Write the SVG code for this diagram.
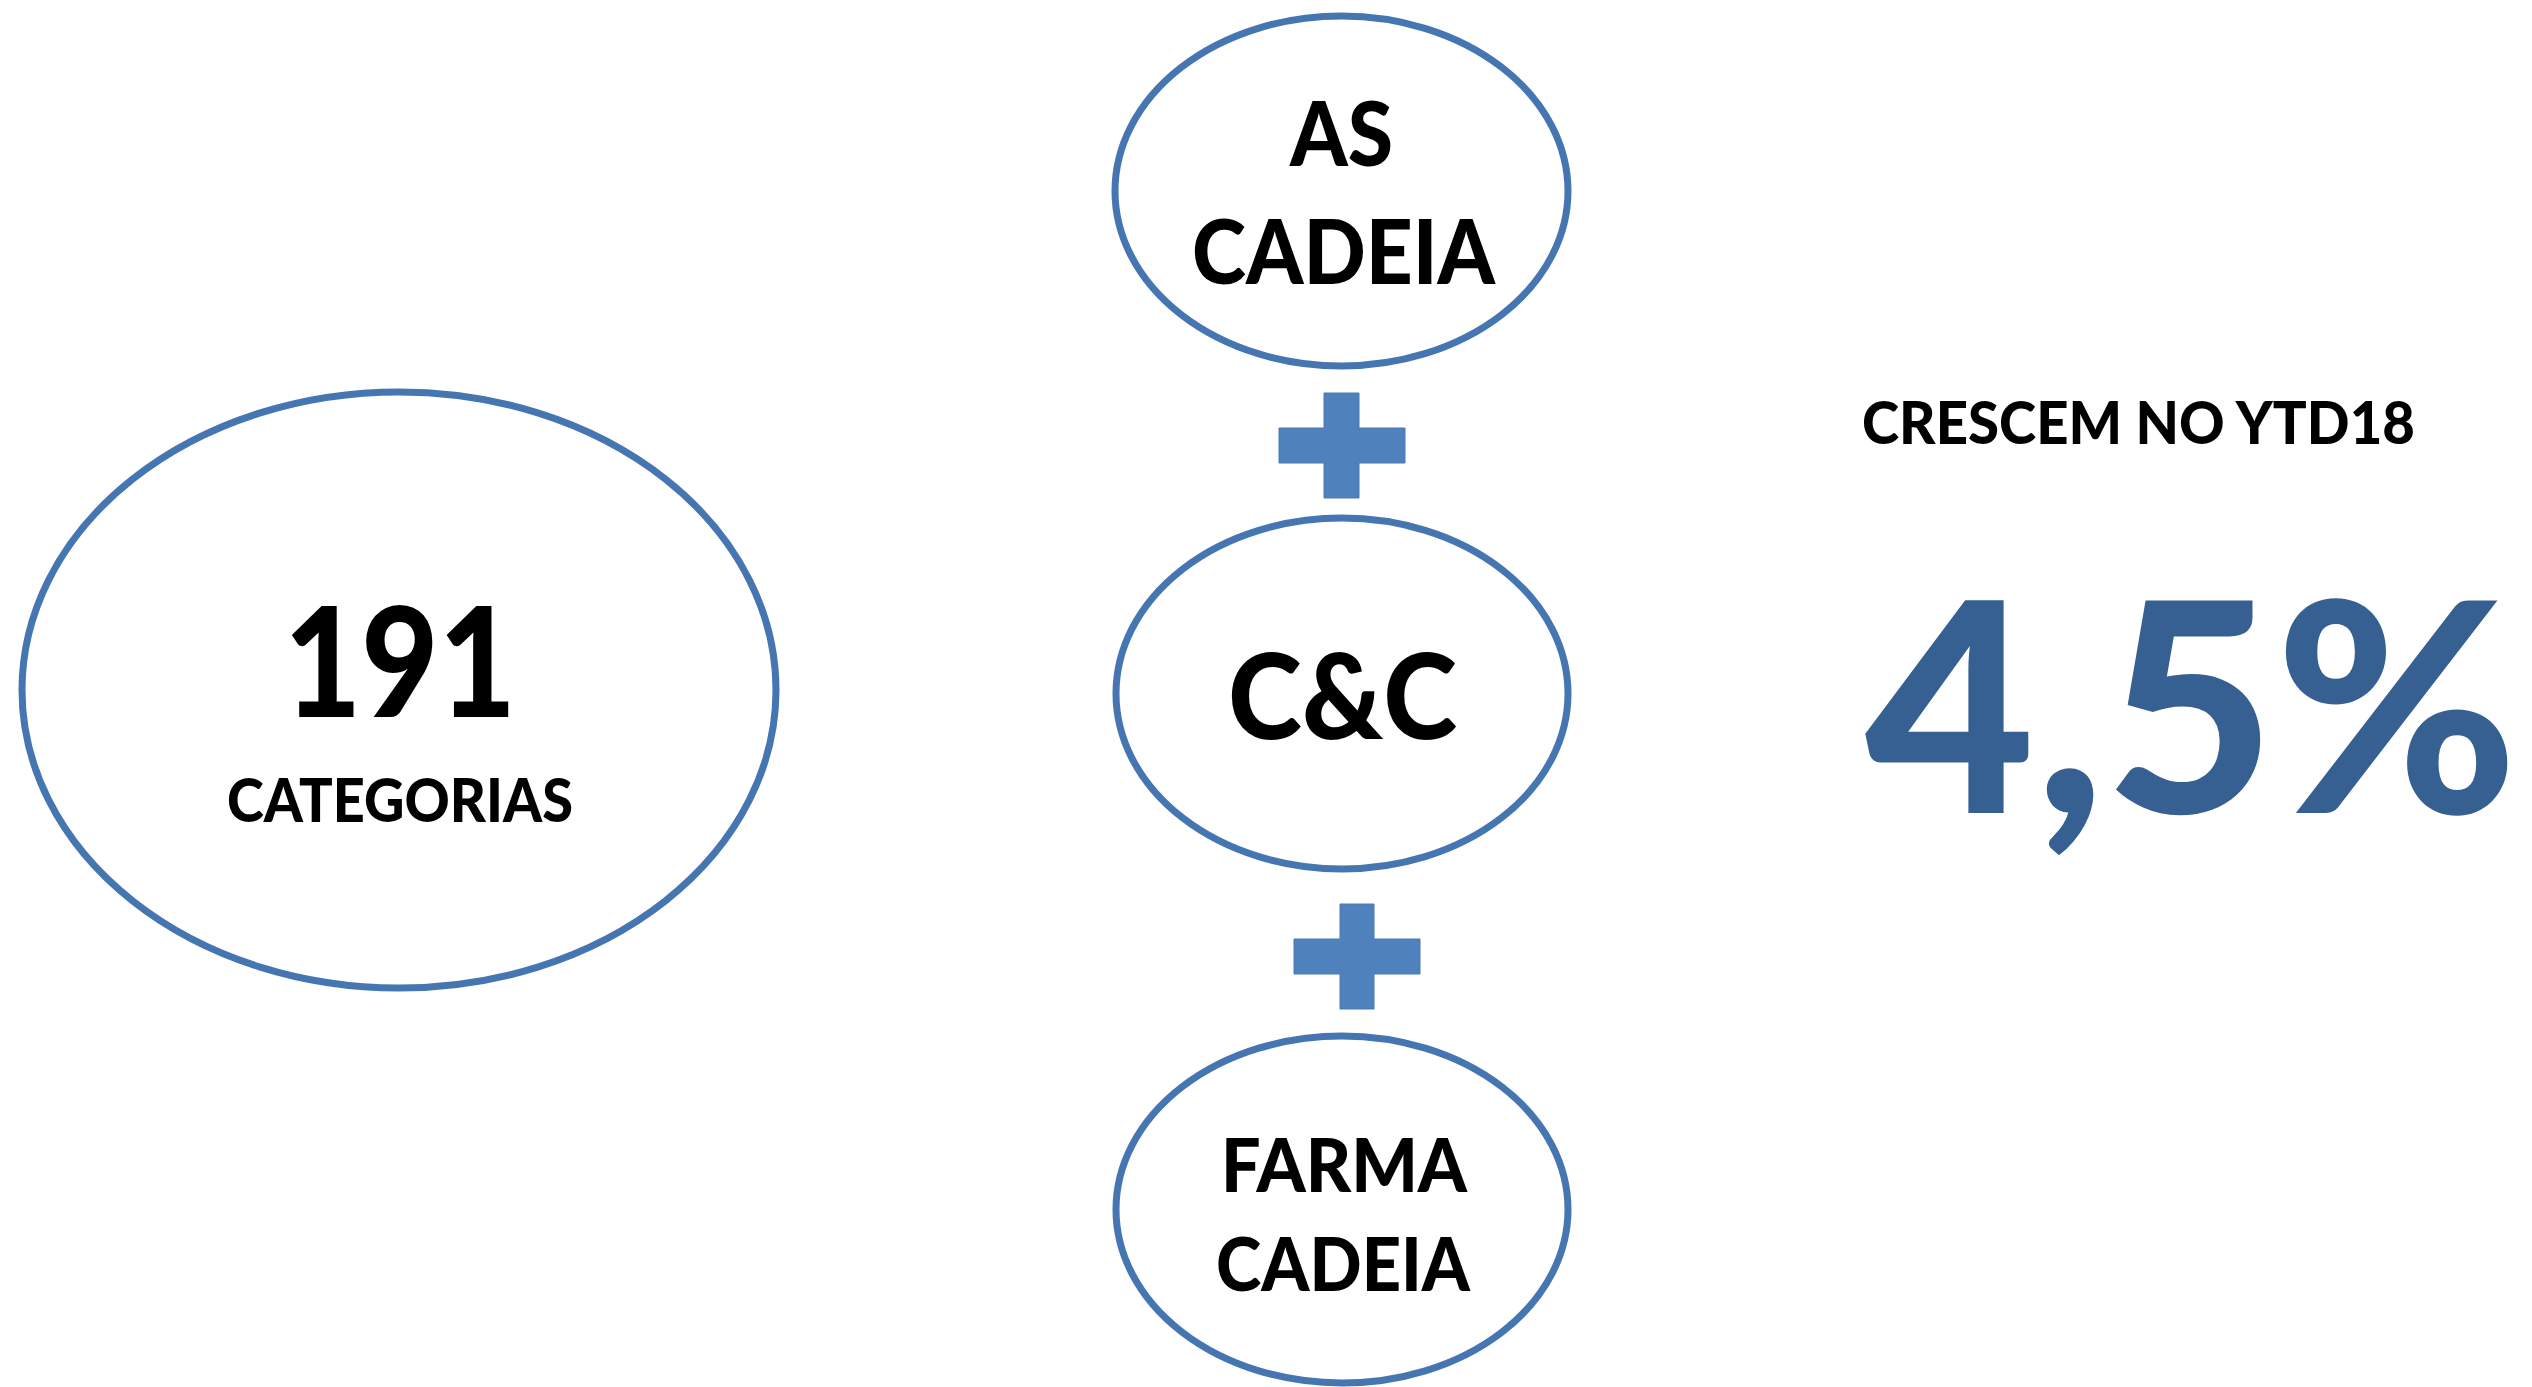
<svg xmlns="http://www.w3.org/2000/svg" width="2532" height="1387" viewBox="0 0 2532 1387">
  <style>
    .node { fill: #ffffff; stroke: #4676B2; stroke-width: 7; }
    .lbl { font-family: Lato, "Open Sans", "Liberation Sans", sans-serif; font-weight: 900; fill: #000000; text-anchor: middle; }
    .plus { fill: #4F81BD; stroke: #4A7AB5; stroke-width: 1; }
    .big { font-family: Lato, "Open Sans", "Liberation Sans", sans-serif; font-weight: 900; fill: #376092; }
  </style>
  <rect x="0" y="0" width="2532" height="1387" fill="#ffffff"/>

  <g id="node-categorias">
    <ellipse class="node" cx="399" cy="690" rx="377" ry="298"/>
    <text class="lbl" x="400" y="717" font-size="152" textLength="232" lengthAdjust="spacingAndGlyphs">191</text>
    <text class="lbl" x="400" y="822" font-size="60" textLength="346" lengthAdjust="spacingAndGlyphs">CATEGORIAS</text>
  </g>

  <g id="node-as-cadeia">
    <ellipse class="node" cx="1341.5" cy="191" rx="226.5" ry="175"/>
    <text class="lbl" x="1341.5" y="166" font-size="89" textLength="103" lengthAdjust="spacingAndGlyphs">AS</text>
    <text class="lbl" x="1343.5" y="284" font-size="89" textLength="303" lengthAdjust="spacingAndGlyphs">CADEIA</text>
  </g>

  <g id="node-cc">
    <ellipse class="node" cx="1342" cy="693.5" rx="226" ry="175.5"/>
    <text class="lbl" x="1342.5" y="739" font-size="119" textLength="229" lengthAdjust="spacingAndGlyphs">C&amp;C</text>
  </g>

  <g id="node-farma-cadeia">
    <ellipse class="node" cx="1342" cy="1209.5" rx="226" ry="173.5"/>
    <text class="lbl" x="1344" y="1192" font-size="75" textLength="246" lengthAdjust="spacingAndGlyphs">FARMA</text>
    <text class="lbl" x="1343" y="1291" font-size="75" textLength="254" lengthAdjust="spacingAndGlyphs">CADEIA</text>
  </g>

  <g id="node-growth">
    <text class="lbl" x="1862" y="444" font-size="59" style="text-anchor:start" textLength="553" lengthAdjust="spacingAndGlyphs">CRESCEM NO YTD18</text>
    <text class="big" x="1865" y="813" font-size="293" textLength="653" lengthAdjust="spacingAndGlyphs">4,5%</text>
  </g>

  <g id="connectors">
    <path id="plus-1" class="plus" d="M1324 393 H1359 V428 H1405 V463 H1359 V498 H1324 V463 H1279 V428 H1324 Z"/>
    <path id="plus-2" class="plus" d="M1340 904 H1374 V939 H1420 V974 H1374 V1009 H1340 V974 H1294 V939 H1340 Z"/>
  </g>
</svg>
